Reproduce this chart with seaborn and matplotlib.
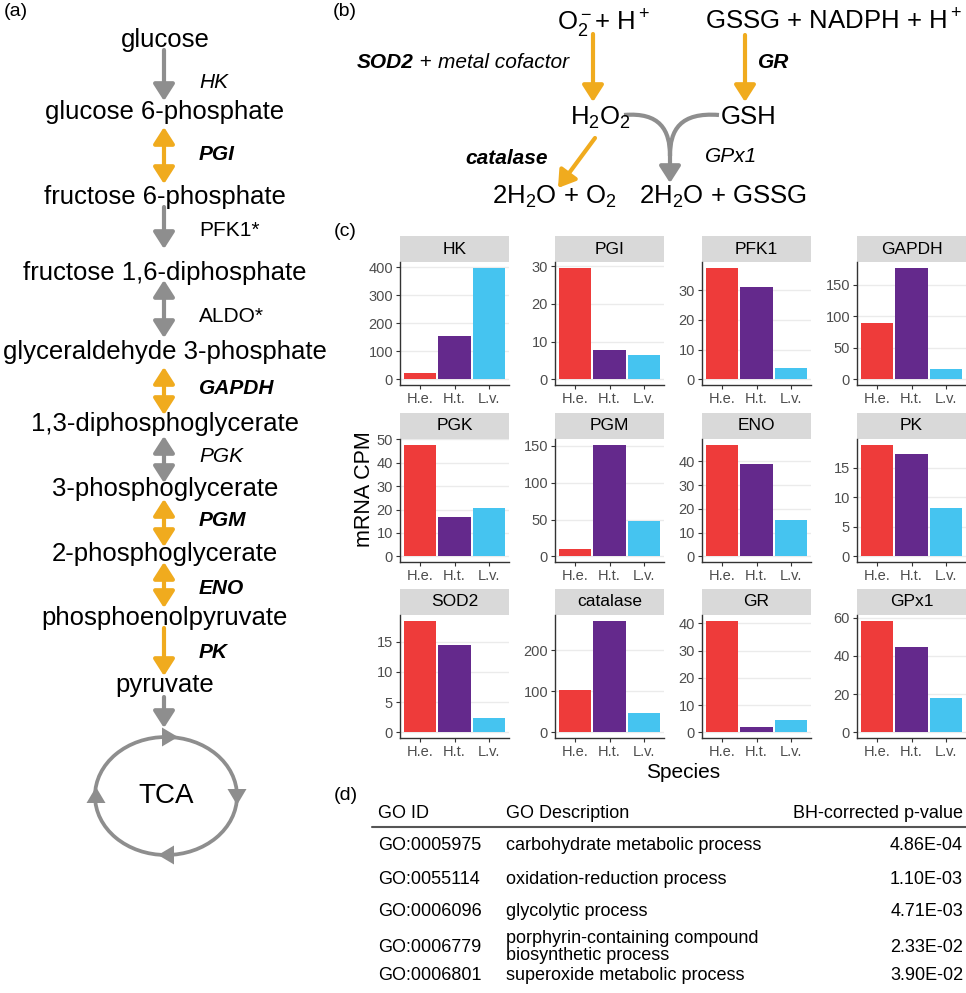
import matplotlib
matplotlib.use("Agg")
import matplotlib.pyplot as plt
import numpy as np
import pandas as pd
import seaborn as sns
from matplotlib.patches import ArrowStyle, Ellipse, FancyArrowPatch, PathPatch, Polygon, Rectangle
from matplotlib.path import Path

# ---- data -------------------------------------------------------------
metabolites = ["glucose", "glucose 6-phosphate", "fructose 6-phosphate",
               "fructose 1,6-diphosphate", "glyceraldehyde 3-phosphate",
               "1,3-diphosphoglycerate", "3-phosphoglycerate", "2-phosphoglycerate",
               "phosphoenolpyruvate", "pyruvate"]
enzymes = ["HK", "PGI", "PFK1*", "ALDO*", "GAPDH", "PGK", "PGM", "ENO", "PK"]
enzyme_sig = [False, True, False, False, True, False, True, True, True]
enzyme_rev = [False, True, False, True, True, True, True, True, False]
enzyme_italic = [True, True, False, False, True, True, True, True, True]

genes = ["HK", "PGI", "PFK1", "GAPDH", "PGK", "PGM", "ENO", "PK",
         "SOD2", "catalase", "GR", "GPx1"]
species = ["H.e.", "H.t.", "L.v."]
cpm_he = [22, 29.6, 37.6, 90, 47.7, 10, 47, 18.9, 18.5, 103.7, 41, 58.5]
cpm_ht = [155, 7.8, 31, 177.5, 16.9, 151.8, 39, 17.3, 14.5, 273, 2.0, 44.8]
cpm_lv = [398, 6.4, 3.9, 15.9, 20.6, 48.6, 15.5, 8.2, 2.4, 46.5, 4.6, 17.8]
y_step = [100, 10, 10, 50, 10, 50, 10, 5, 5, 100, 10, 20]

go_ids = ["GO:0005975", "GO:0055114", "GO:0006096", "GO:0006779", "GO:0006801"]
go_desc = ["carbohydrate metabolic process", "oxidation-reduction process",
           "glycolytic process", "porphyrin-containing compound\nbiosynthetic process",
           "superoxide metabolic process"]
go_p = ["4.86E-04", "1.10E-03", "4.71E-03", "2.33E-02", "3.90E-02"]

expr = pd.DataFrame({
    "gene": np.repeat(genes, 3),
    "species": species * len(genes),
    "cpm": np.ravel(np.column_stack([cpm_he, cpm_ht, cpm_lv])),
})

# ---- style ------------------------------------------------------------
W, H = 966, 993
GRAY = "#8E8E8E"
ORANGE = "#F0AB1E"
palette = {"H.e.": "#EE3B3A", "H.t.": "#64298C", "L.v.": "#45C4F0"}

sns.set_theme(style="ticks")
plt.rcParams["font.family"] = ["Liberation Sans", "DejaVu Sans"]
plt.rcParams["text.color"] = "black"
plt.rcParams["mathtext.fontset"] = "custom"
plt.rcParams["mathtext.rm"] = "Liberation Sans"
plt.rcParams["mathtext.it"] = "Liberation Sans:italic"
plt.rcParams["mathtext.bf"] = "Liberation Sans:bold"

fig = plt.figure(figsize=(W / 100, H / 100), dpi=100)

ov = fig.add_axes([0, 0, 1, 1])
ov.set_xlim(0, W)
ov.set_ylim(H, 0)
ov.set_axis_off()

BIG, MID, LAB = 18.5, 15, 14


def arrow(start, end, color, both=False):
    style = ArrowStyle("<|-|>" if both else "-|>", head_length=10, head_width=6.4)
    ov.add_patch(FancyArrowPatch(start, end, arrowstyle=style, mutation_scale=1, lw=3,
                                 color=color, shrinkA=0, shrinkB=0))


def head(cx, cy, dx, dy, length=16, width=19):
    px, py = -dy, dx
    pts = [(cx + dx * length / 2, cy + dy * length / 2),
           (cx - dx * length / 2 + px * width / 2, cy - dy * length / 2 + py * width / 2),
           (cx - dx * length / 2 - px * width / 2, cy - dy * length / 2 - py * width / 2)]
    ov.add_patch(Polygon(pts, closed=True, color=GRAY, lw=0))


# ---- (a) glycolysis ---------------------------------------------------
ov.text(4, 12, "(a)", fontsize=LAB, va="center")
met_y = [40, 112, 197, 273, 352, 424, 489, 554, 618, 685]
for name, y in zip(metabolites, met_y):
    ov.text(165, y, name, fontsize=BIG, ha="center", va="center")

arrow_y = [(50, 101), (127, 184), (207, 249), (280, 338), (367, 415),
           (436, 483), (499, 547), (562, 608), (628, 676)]
enz_y = [82, 155, 230, 317, 388, 457, 521, 588, 653]
for name, sig, rev, ital, (y0, y1), ey in zip(enzymes, enzyme_sig, enzyme_rev,
                                              enzyme_italic, arrow_y, enz_y):
    arrow((164, y0), (164, y1), ORANGE if sig else GRAY, both=rev)
    ov.text(199, ey, name, fontsize=MID, va="center",
            fontstyle="italic" if ital else "normal",
            fontweight="bold" if sig else "normal")

arrow((164, 697), (164, 728), GRAY)
ov.add_patch(Ellipse((166, 796), 142, 118, fill=False, ec=GRAY, lw=2.7))
head(170, 737, 1, 0)
head(237, 797, 0, 1)
head(166, 855, -1, 0)
head(96, 795, 0, -1)
ov.text(166, 796, "TCA", fontsize=20, ha="center", va="center")

# ---- (b) ROS scavenging -----------------------------------------------
ov.text(333, 12, "(b)", fontsize=LAB, va="center")
ov.text(557, 24, r"O$_2^-$+ H$^+$", fontsize=BIG, va="center")
ov.text(705, 22, r"GSSG + NADPH + H$^+$", fontsize=BIG, va="center")
arrow((593, 34), (593, 102), ORANGE)
arrow((745, 35), (745, 102), ORANGE)

t1 = ov.text(357, 62, "SOD2", fontsize=MID, fontweight="bold", fontstyle="italic", va="center")
t2 = ov.annotate(" + ", xy=(1, 0), xycoords=t1, fontsize=MID, va="bottom")
ov.annotate("metal cofactor", xy=(1, 0), xycoords=t2, fontsize=MID, va="bottom",
            fontstyle="italic")
ov.text(758, 62, "GR", fontsize=MID, fontweight="bold", fontstyle="italic", va="center")

ov.text(570, 118, r"H$_2$O$_2$", fontsize=BIG, va="center")
ov.text(721, 117, "GSH", fontsize=BIG, va="center")

for p in ([(624, 115), (660, 112), (670, 130), (670, 156)],
          [(719, 115), (680, 112), (670, 130), (670, 156)]):
    ov.add_patch(PathPatch(Path(p, [Path.MOVETO, Path.CURVE4, Path.CURVE4, Path.CURVE4]),
                           fill=False, ec=GRAY, lw=3))
arrow((670, 150), (670, 183), GRAY)
ov.text(705, 157, "GPx1", fontsize=MID, fontstyle="italic", va="center")

arrow((595, 138), (558, 188), ORANGE)
ov.text(465, 158, "catalase", fontsize=MID, fontweight="bold", fontstyle="italic", va="center")

ov.text(492, 197, r"2H$_2$O + O$_2$", fontsize=BIG, va="center")
ov.text(639, 197, r"2H$_2$O + GSSG", fontsize=BIG, va="center")

# ---- (c) expression facets --------------------------------------------
ov.text(334, 232, "(c)", fontsize=LAB, va="center")
col_left = [400, 555, 702, 857]
row_top = [262, 439, 615]
panel_w, panel_h, strip_h = 109, 123, 26

for i, gene in enumerate(genes):
    r, c = divmod(i, 4)
    ax = fig.add_axes([col_left[c] / W, 1 - (row_top[r] + panel_h) / H,
                       panel_w / W, panel_h / H])
    sub = expr[expr["gene"] == gene]
    sns.barplot(data=sub, x="species", y="cpm", hue="species", order=species,
                hue_order=species, palette=palette, width=0.94, errorbar=None,
                saturation=1, linewidth=0, legend=False, ax=ax)
    ymax = sub["cpm"].max()
    ax.set_xlim(-0.6, 2.6)
    ax.set_ylim(-0.05 * ymax, 1.05 * ymax)
    ax.set_yticks(np.arange(0, ymax * 1.05, y_step[i]))
    ax.yaxis.grid(True, color="#EBEBEB", lw=1)
    ax.set_axisbelow(True)
    ax.set_xlabel("")
    ax.set_ylabel("")
    for side in ("top", "right"):
        ax.spines[side].set_visible(False)
    for side in ("left", "bottom"):
        ax.spines[side].set_color("#333333")
        ax.spines[side].set_linewidth(1)
    ax.tick_params(length=3, width=0.8, color="#333333", labelsize=10.5,
                   labelcolor="#4D4D4D", pad=2)
    sh = strip_h / panel_h
    ax.add_patch(Rectangle((0, 1), 1, sh, transform=ax.transAxes, clip_on=False,
                           fc="#D9D9D9", ec="none"))
    ax.text(0.5, 1 + sh / 2, gene, transform=ax.transAxes, ha="center",
            va="center", fontsize=12.5)

ov.text(365, 489, "mRNA CPM", fontsize=15.5, rotation=90, ha="center", va="center")
ov.text(683, 772, "Species", fontsize=15, ha="center", va="center")

# ---- (d) GO table -----------------------------------------------------
ov.text(334, 796, "(d)", fontsize=LAB, va="center")
ov.text(378, 813, "GO ID", fontsize=13, va="center")
ov.text(506, 813, "GO Description", fontsize=13, va="center")
ov.text(963, 813, "BH-corrected p-value", fontsize=13, va="center", ha="right")
ov.plot([372, 966], [827, 827], color="#555555", lw=1.5)
row_y = [845, 879, 912, 947, 975]
for gid, desc, pv, y in zip(go_ids, go_desc, go_p, row_y):
    ov.text(378, y, gid, fontsize=13, va="center")
    ov.text(506, y, desc, fontsize=13, va="center", linespacing=1.05)
    ov.text(963, y, pv, fontsize=13, va="center", ha="right")

fig.savefig("out.png", dpi=100)
